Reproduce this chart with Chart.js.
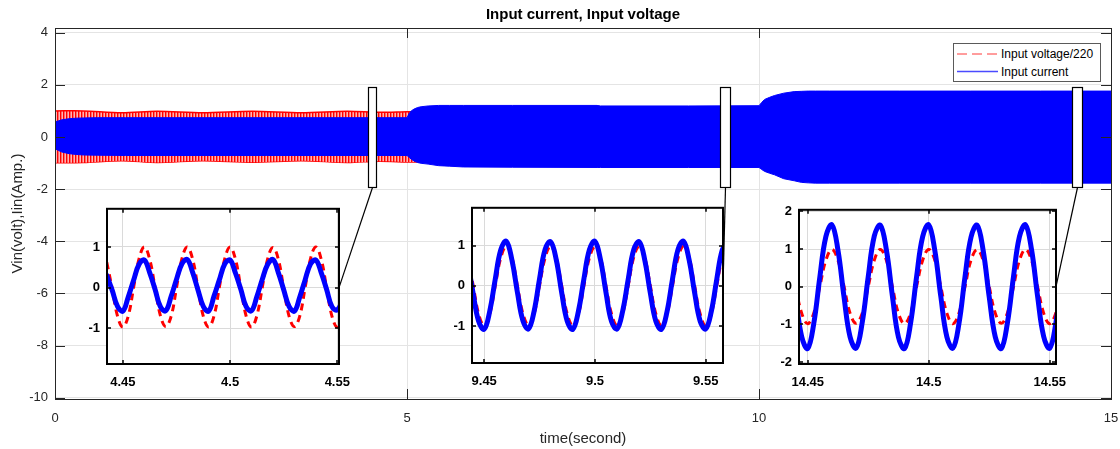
<!DOCTYPE html>
<html>
<head>
<meta charset="utf-8">
<title>Input current, Input voltage</title>
<script src="https://cdn.jsdelivr.net/npm/chart.js@4.4.1/dist/chart.umd.min.js"></script>
<style>
  html, body { margin: 0; padding: 0; background: #fff; }
  #wrap { position: relative; width: 1120px; height: 449px; overflow: hidden;
          font-family: "Liberation Sans", Arial, Helvetica, sans-serif; }
  #wrap canvas { position: absolute; }
  #legend { position: absolute; left: 953px; top: 43px; width: 146px; height: 37px;
            border: 1px solid #5a5a5a; background: #fff; z-index: 5; }
  #legend svg { position: absolute; left: 0; top: 0; }
  #legend span { position: absolute; left: 47px; font-size: 12px; line-height: 14px;
                 color: #000; white-space: nowrap; }
</style>
</head>
<body>
<div id="wrap">
  <canvas id="main" width="1120" height="449" style="left:0;top:0"></canvas>
  <canvas id="inset1"></canvas>
  <canvas id="inset2"></canvas>
  <canvas id="inset3"></canvas>
  <div id="legend">
    <svg width="146" height="37">
      <line x1="3" y1="10" x2="44" y2="10" stroke="#ff3a3a" stroke-width="1" stroke-dasharray="10 5"/>
      <line x1="3" y1="27.5" x2="44" y2="27.5" stroke="#4a4aff" stroke-width="1.3"/>
    </svg>
    <span style="top:3px">Input voltage/220</span>
    <span style="top:21px">Input current</span>
  </div>
</div>
<script>
// ---- Main axes: tick values ----
const mainXTicks = [0, 5, 10, 15];
const mainYTicks = [-10, -8, -6, -4, -2, 0, 2, 4];

// ---- Input current, upper / lower envelope of the 50 Hz waveform (A) ----
const curTime  = [0, 0.05, 0.1, 0.2, 0.3, 0.4, 0.6, 1.0, 2.0, 3.0,
                  4.0, 5.0, 5.03, 5.06, 5.1, 5.15, 5.2, 5.3, 5.45, 5.6,
                  5.8, 6.5, 7.7, 7.75, 9.0, 10.0, 10.04, 10.08, 10.15, 10.22,
                  10.35, 10.5, 10.6, 10.7, 10.8, 11.0, 12.0, 13.0, 14.0, 15.0];
const curUpper = [0.58, 0.62, 0.66, 0.70, 0.72, 0.73, 0.74, 0.74, 0.74, 0.74,
                  0.74, 0.74, 0.90, 1.00, 1.07, 1.13, 1.16, 1.19, 1.21, 1.21,
                  1.21, 1.21, 1.21, 1.19, 1.19, 1.20, 1.33, 1.44, 1.52, 1.59,
                  1.68, 1.74, 1.75, 1.76, 1.76, 1.76, 1.76, 1.76, 1.76, 1.76];
const curLower = [-0.45, -0.52, -0.58, -0.64, -0.67, -0.69, -0.70, -0.71, -0.71, -0.71,
                  -0.71, -0.71, -0.78, -0.85, -0.92, -0.98, -1.01, -1.04, -1.10, -1.12,
                  -1.15, -1.16, -1.17, -1.17, -1.17, -1.17, -1.25, -1.32, -1.39, -1.45,
                  -1.60, -1.68, -1.74, -1.76, -1.77, -1.77, -1.77, -1.77, -1.77, -1.77];

// ---- Input voltage / 220, upper / lower envelope ----
const voltTime  = [0, 0.4, 0.95, 1.45, 2.1, 2.8, 3.5, 4.15, 4.6, 5.0, 5.1, 15];
const voltUpper = [1.0, 1.0, 0.93, 0.99, 0.93, 0.99, 0.93, 0.99, 0.95, 0.97, 0.97, 0.97];
const voltLower = [-0.99, -0.98, -0.91, -0.98, -0.91, -0.97, -0.91, -0.98, -0.93, -0.96, -0.96, -0.96];

// ---- Zoom windows marked on the main axes ----
const zoomBoxX = [[4.44, 4.56], [9.44, 9.585], [14.44, 14.59]];
const zoomBoxY = [-1.92, 1.92];

// ---- Detail 1: t = 4.44 ... 4.55 s ----
const in1Time = [4.4425, 4.445, 4.4475, 4.45, 4.4525, 4.455, 4.4575, 4.46,
                 4.4625, 4.465, 4.4675, 4.47, 4.4725, 4.475, 4.4775, 4.48,
                 4.4825, 4.485, 4.4875, 4.49, 4.4925, 4.495, 4.4975, 4.5,
                 4.5025, 4.505, 4.5075, 4.51, 4.5125, 4.515, 4.5175, 4.52,
                 4.5225, 4.525, 4.5275, 4.53, 4.5325, 4.535, 4.5375, 4.54,
                 4.5425, 4.545, 4.5475, 4.55, 4.5525];
const in1Volt = [0.62, -0.02, -0.70, -0.97, -0.70, 0.00, 0.70, 1.00,
                 0.70, 0.01, -0.69, -0.96, -0.71, -0.01, 0.70, 1.00,
                 0.71, 0.00, -0.70, -0.97, -0.70, 0.01, 0.71, 1.00,
                 0.70, 0.00, -0.70, -0.97, -0.69, 0.00, 0.70, 0.99,
                 0.70, -0.01, -0.70, -0.96, -0.70, 0.00, 0.71, 1.00,
                 0.70, 0.00, -0.70, -0.97, -0.70];
const in1Cur  = [0.30, -0.06, -0.46, -0.58, -0.23, 0.18, 0.57, 0.68,
                 0.37, -0.04, -0.47, -0.57, -0.22, 0.20, 0.58, 0.69,
                 0.38, -0.05, -0.46, -0.58, -0.21, 0.19, 0.58, 0.68,
                 0.36, -0.04, -0.47, -0.57, -0.22, 0.20, 0.57, 0.69,
                 0.37, -0.05, -0.46, -0.58, -0.23, 0.19, 0.58, 0.68,
                 0.37, -0.04, -0.47, -0.55, -0.30];
const in1XTicks = [4.45, 4.5, 4.55];
const in1YTicks = [-1, 0, 1];

// ---- Detail 2: t = 9.44 ... 9.56 s ----
const in2Time = [9.4425, 9.445, 9.4475, 9.45, 9.4525, 9.455, 9.4575, 9.46,
                 9.4625, 9.465, 9.4675, 9.47, 9.4725, 9.475, 9.4775, 9.48,
                 9.4825, 9.485, 9.4875, 9.49, 9.4925, 9.495, 9.4975, 9.5,
                 9.5025, 9.505, 9.5075, 9.51, 9.5125, 9.515, 9.5175, 9.52,
                 9.5225, 9.525, 9.5275, 9.53, 9.5325, 9.535, 9.5375, 9.54,
                 9.5425, 9.545, 9.5475, 9.55, 9.5525, 9.555, 9.5575, 9.56];
const in2Volt = [0.70, 0.02, -0.70, -0.99, -0.70, 0.00, 0.70, 0.99,
                 0.71, 0.00, -0.69, -0.98, -0.70, 0.01, 0.70, 0.99,
                 0.70, 0.00, -0.70, -0.99, -0.71, 0.00, 0.70, 0.98,
                 0.70, -0.01, -0.70, -0.99, -0.70, 0.00, 0.71, 0.99,
                 0.70, 0.00, -0.70, -0.98, -0.70, 0.00, 0.70, 0.99,
                 0.71, 0.00, -0.70, -0.99, -0.70, 0.01, 0.70, 0.99];
const in2Cur  = [0.64, -0.18, -0.88, -1.08, -0.63, 0.17, 0.90, 1.11,
                 0.65, -0.16, -0.87, -1.07, -0.64, 0.18, 0.91, 1.10,
                 0.66, -0.17, -0.88, -1.08, -0.64, 0.17, 0.90, 1.11,
                 0.65, -0.17, -0.89, -1.07, -0.63, 0.16, 0.90, 1.10,
                 0.64, -0.18, -0.88, -1.08, -0.65, 0.17, 0.91, 1.11,
                 0.65, -0.17, -0.88, -1.07, -0.64, 0.17, 0.90, 1.10];
const in2XTicks = [9.45, 9.5, 9.55];
const in2YTicks = [-1, 0, 1];

// ---- Detail 3: t = 14.44 ... 14.55 s ----
const in3Time = [14.445, 14.4475, 14.45, 14.4525, 14.455, 14.4575, 14.46, 14.4625,
                 14.465, 14.4675, 14.47, 14.4725, 14.475, 14.4775, 14.48, 14.4825,
                 14.485, 14.4875, 14.49, 14.4925, 14.495, 14.4975, 14.5, 14.5025,
                 14.505, 14.5075, 14.51, 14.5125, 14.515, 14.5175, 14.52, 14.5225,
                 14.525, 14.5275, 14.53, 14.5325, 14.535, 14.5375, 14.54, 14.5425,
                 14.545, 14.5475, 14.55, 14.5525, 14.555];
const in3Volt = [0.00, -0.70, -0.98, -0.70, 0.00, 0.70, 0.99, 0.70,
                 0.01, -0.70, -0.97, -0.71, 0.00, 0.70, 0.99, 0.70,
                 0.00, -0.71, -0.98, -0.70, 0.01, 0.70, 0.99, 0.71,
                 0.00, -0.70, -0.98, -0.70, 0.00, 0.71, 0.98, 0.70,
                 0.00, -0.70, -0.97, -0.70, -0.01, 0.70, 0.99, 0.70,
                 0.00, -0.70, -0.98, -0.70, 0.00];
const in3Cur  = [-0.26, -1.32, -1.64, -0.98, 0.25, 1.33, 1.64, 0.97,
                 -0.27, -1.33, -1.63, -0.96, 0.26, 1.34, 1.63, 0.98,
                 -0.25, -1.34, -1.64, -0.97, 0.27, 1.33, 1.64, 0.97,
                 -0.26, -1.33, -1.63, -0.98, 0.26, 1.32, 1.63, 0.96,
                 -0.27, -1.33, -1.64, -0.97, 0.25, 1.33, 1.64, 0.98,
                 -0.26, -1.32, -1.63, -0.98, 0.25];
const in3XTicks = [14.45, 14.5, 14.55];
const in3YTicks = [-2, -1, 0, 1, 2];

// ------------------------------------------------------------------
Chart.defaults.font.family = "'Liberation Sans', Arial, Helvetica, sans-serif";
Chart.defaults.animation = false;

const pts = (xs, ys) => xs.map((x, i) => ({ x, y: ys[i] }));
const fixTicks = vals => scale => { scale.ticks = vals.map(v => ({ value: v })); };

// Frame and inward tick marks drawn on all four sides of an axes box
const boxFrame = {
  id: 'boxFrame',
  beforeDraw(chart, args, o) {
    if (!o.fill) return;
    const a = chart.chartArea, ctx = chart.ctx;
    ctx.save();
    ctx.fillStyle = o.fill;
    ctx.fillRect(a.left, a.top, a.width, a.height);
    ctx.restore();
  },
  afterDraw(chart, args, o) {
    const { ctx, chartArea: a, scales: { x, y } } = chart;
    const L = o.len, h = o.offset;
    ctx.save();
    ctx.strokeStyle = o.color;
    ctx.lineWidth = o.tickWidth;
    ctx.beginPath();
    x.ticks.forEach(t => {
      const px = Math.round(x.getPixelForValue(t.value)) + h;
      ctx.moveTo(px, a.bottom); ctx.lineTo(px, a.bottom - L);
      ctx.moveTo(px, a.top); ctx.lineTo(px, a.top + L);
    });
    y.ticks.forEach(t => {
      const py = Math.round(y.getPixelForValue(t.value)) + h;
      ctx.moveTo(a.left, py); ctx.lineTo(a.left + L, py);
      ctx.moveTo(a.right, py); ctx.lineTo(a.right - L, py);
    });
    ctx.stroke();
    ctx.lineWidth = o.width;
    ctx.strokeRect(a.left + h, a.top + h, a.width, a.height);
    ctx.restore();
  }
};

// Title centred over the plotting area
const areaTitle = {
  id: 'areaTitle',
  afterDraw(chart, args, o) {
    const { ctx, chartArea: a } = chart;
    ctx.save();
    ctx.font = o.font;
    ctx.fillStyle = o.color;
    ctx.textAlign = 'center';
    ctx.textBaseline = 'middle';
    ctx.fillText(o.text, (a.left + a.right) / 2, o.y);
    ctx.restore();
  }
};

// ---- Detail axes ----
const IN_YW = 34, IN_XH = 28, IN_PT = 8, IN_PR = 20;

function makeInset(id, box, t, volt, cur, xTicks, yTicks, xr, yr) {
  const cv = document.getElementById(id);
  const [l, tp, r, b] = box;
  const left = l - IN_YW, top = tp - IN_PT;
  cv.width = r - l + IN_YW + IN_PR;
  cv.height = b - tp + IN_PT + IN_XH;
  cv.style.left = left + 'px';
  cv.style.top = top + 'px';
  cv.style.zIndex = 2;
  const tickFont = { size: 13, weight: 'bold' };
  const chart = new Chart(cv, {
    type: 'line',
    data: {
      datasets: [
        { label: 'Input current', data: pts(t, cur), borderColor: '#0000ff', borderWidth: 5,
          pointRadius: 0, tension: 0.4, fill: false, clip: 0,
          borderCapStyle: 'round', borderJoinStyle: 'round' },
        { label: 'Input voltage/220', data: pts(t, volt), borderColor: '#ff0000', borderWidth: 3,
          borderDash: [7, 5], pointRadius: 0, tension: 0.4, fill: false, clip: 0 }
      ]
    },
    options: {
      responsive: false,
      animation: false,
      events: [],
      layout: { padding: { top: IN_PT, right: IN_PR, left: 0, bottom: 0 } },
      plugins: {
        legend: { display: false }, tooltip: { enabled: false }, title: { display: false },
        boxFrame: { color: '#000', width: 2, tickWidth: 1.5, len: 4, offset: 0, fill: '#fff' }
      },
      scales: {
        x: {
          type: 'linear', min: xr[0], max: xr[1],
          afterBuildTicks: fixTicks(xTicks),
          afterFit: s => { s.height = IN_XH; },
          grid: { color: '#dadada', lineWidth: 1, drawTicks: true, tickLength: 11,
                  tickColor: 'rgba(0,0,0,0)' },
          border: { display: false },
          ticks: { font: tickFont, color: '#000', padding: 0, autoSkip: false, maxRotation: 0,
                   callback: v => String(v) }
        },
        y: {
          type: 'linear', min: yr[0], max: yr[1],
          afterBuildTicks: fixTicks(yTicks),
          afterFit: s => { s.width = IN_YW; },
          grid: { color: '#dadada', lineWidth: 1, drawTicks: false },
          border: { display: false },
          ticks: { font: tickFont, color: '#000', padding: 7, autoSkip: false,
                   callback: v => String(v) }
        }
      }
    },
    plugins: [boxFrame]
  });
  return { chart, left, top };
}

const insets = [
  makeInset('inset1', [107, 202, 339, 364], in1Time, in1Volt, in1Cur, in1XTicks, in1YTicks,
            [4.4426, 4.5508], [-1.88, 1.94]),
  makeInset('inset2', [472, 201, 723, 363], in2Time, in2Volt, in2Cur, in2XTicks, in2YTicks,
            [9.4445, 9.5578], [-1.92, 1.945]),
  makeInset('inset3', [799, 203, 1056, 364], in3Time, in3Volt, in3Cur, in3XTicks, in3YTicks,
            [14.4464, 14.5526], [-2.05, 2.04])
];

// ---- Zoom windows on the main axes and their leader lines ----
const zoomMarks = {
  id: 'zoomMarks',
  afterDatasetsDraw(chart) {
    const { ctx, scales: { x, y } } = chart;
    ctx.save();
    ctx.strokeStyle = '#000';
    ctx.lineWidth = 1.2;
    zoomBoxX.forEach((xr, i) => {
      const x0 = Math.round(x.getPixelForValue(xr[0])) + 0.5;
      const x1 = Math.round(x.getPixelForValue(xr[1])) + 0.5;
      const y0 = Math.round(y.getPixelForValue(zoomBoxY[1])) + 0.5;
      const y1 = Math.round(y.getPixelForValue(zoomBoxY[0])) + 0.5;
      ctx.fillStyle = '#fff';
      ctx.fillRect(x0, y0, x1 - x0, y1 - y0);
      ctx.strokeRect(x0, y0, x1 - x0, y1 - y0);
      const ins = insets[i];
      const ex = ins.left + ins.chart.chartArea.right;
      const ey = ins.top + ins.chart.scales.y.getPixelForValue(0);
      ctx.beginPath();
      ctx.moveTo((x0 + x1) / 2, y1);
      ctx.lineTo(ex, ey);
      ctx.stroke();
    });
    ctx.restore();
  }
};

// Striped fill for the densely dashed voltage trace
function stripePattern() {
  const c = document.createElement('canvas');
  c.width = 3; c.height = 4;
  const g = c.getContext('2d');
  g.fillStyle = '#ff0000'; g.fillRect(0, 0, 1, 4);
  g.fillStyle = '#ff6a6a'; g.fillRect(1, 0, 1, 4);
  g.fillStyle = '#ffb4b4'; g.fillRect(2, 0, 1, 4);
  return document.getElementById('main').getContext('2d').createPattern(c, 'repeat');
}

const axisGrey = '#262626';
new Chart(document.getElementById('main'), {
  type: 'line',
  data: {
    datasets: [
      { label: 'Input current', data: pts(curTime, curUpper), fill: '+1',
        backgroundColor: '#0000ff', borderColor: '#0000ff', borderWidth: 1,
        pointRadius: 0, tension: 0 },
      { label: 'Input current (lower)', data: pts(curTime, curLower), fill: false,
        borderColor: '#0000ff', borderWidth: 1, pointRadius: 0, tension: 0 },
      { label: 'Input voltage/220', data: pts(voltTime, voltUpper), fill: '+1',
        backgroundColor: stripePattern(), borderColor: '#ff0000', borderWidth: 1.5,
        pointRadius: 0, tension: 0.3 },
      { label: 'Input voltage/220 (lower)', data: pts(voltTime, voltLower), fill: false,
        borderColor: '#ff0000', borderWidth: 1.5, pointRadius: 0, tension: 0.3 }
    ]
  },
  options: {
    responsive: false,
    animation: false,
    events: [],
    layout: { padding: { top: 28, right: 9, left: 0, bottom: 0 } },
    plugins: {
      legend: { display: false },
      tooltip: { enabled: false },
      title: { display: false },
      areaTitle: { text: 'Input current, Input voltage', font: "bold 15px 'Liberation Sans', Arial, sans-serif",
                   color: '#000', y: 15 },
      boxFrame: { color: axisGrey, width: 1, tickWidth: 1, len: 10, offset: 0.5, fill: null }
    },
    scales: {
      x: {
        type: 'linear', min: 0, max: 15,
        afterBuildTicks: fixTicks(mainXTicks),
        afterFit: s => { s.height = 50; },
        grid: { color: '#e4e4e4', lineWidth: 1, drawTicks: true, tickLength: 12,
                tickColor: 'rgba(0,0,0,0)' },
        border: { display: false },
        ticks: { font: { size: 13 }, color: axisGrey, padding: 0, autoSkip: false, maxRotation: 0 },
        title: { display: true, text: 'time(second)', color: axisGrey, font: { size: 15 },
                 padding: { top: 0, bottom: 1.5 } }
      },
      y: {
        type: 'linear', min: -10.05, max: 4.18,
        afterBuildTicks: fixTicks(mainYTicks),
        afterFit: s => { s.width = 55; },
        grid: { color: '#e4e4e4', lineWidth: 1, drawTicks: false },
        border: { display: false },
        ticks: { font: { size: 13 }, color: axisGrey, padding: 7, autoSkip: false },
        title: { display: true, text: 'Vin(volt),Iin(Amp.)', color: axisGrey, font: { size: 15 },
                 padding: { top: 9, bottom: 0 } }
      }
    }
  },
  plugins: [zoomMarks, boxFrame, areaTitle]
});
</script>
</body>
</html>
